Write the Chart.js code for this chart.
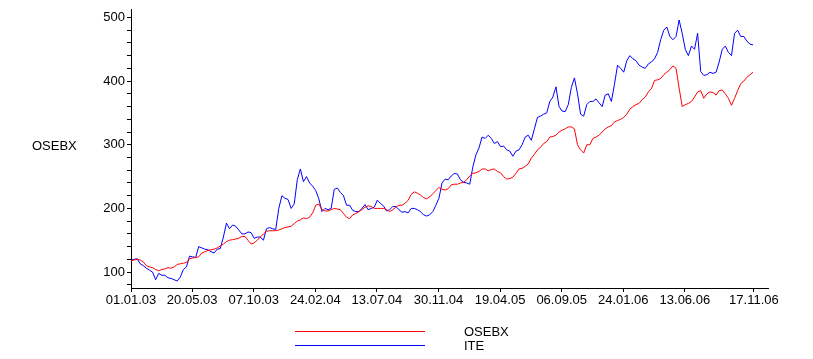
<!DOCTYPE html>
<html>
<head>
<meta charset="utf-8">
<script src="https://cdn.jsdelivr.net/npm/chart.js@4/dist/chart.umd.min.js"></script>
<style>
  body { margin: 0; background: #fff; font-family: "Liberation Sans", Arial, sans-serif; }
  #wrap { position: relative; width: 813px; height: 359px; }
  #yTitle { position: absolute; left: 32px; top: 139px; font-size: 13px; line-height: 14px; color: #000; }
  #legend { position: absolute; left: 0; top: 0; }
  .lg-line { position: absolute; left: 295px; width: 130px; height: 0; }
  .lg-text { position: absolute; left: 464px; font-size: 13px; line-height: 14px; color: #000; }
</style>
</head>
<body>
<div id="wrap">
  <canvas id="myChart" width="813" height="359"></canvas>
  <div id="yTitle">OSEBX</div>
  <div id="legend"></div>
</div>
<script>
// --- Data ---
// weekly closing values starting 01.01.03
const startDate = '01.01.03';
const stepDays = 7;

const osebx = [
  118, 119, 120, 119, 116, 110, 108, 107, 104, 102,
  104, 105, 107, 106, 108, 112, 113, 114, 115, 121,
  122, 123, 124, 130, 132, 134, 135, 136, 138, 141,
  144, 148, 150, 151, 152, 153, 156, 156, 150, 144,
  146, 150, 155, 160, 164, 165, 165, 165, 166, 168,
  170, 171, 172, 176, 180, 182, 185, 184, 186, 193,
  205, 207, 198, 196, 196, 198, 200, 199, 198, 192,
  186, 184, 190, 192, 195, 198, 202, 204, 203, 200,
  200, 200, 200, 198, 195, 198, 202, 205, 205, 208,
  213, 222, 226, 224, 221, 217, 215, 218, 223, 228,
  233, 230, 229, 231, 237, 238, 238, 240, 241, 245,
  251, 255, 256, 258, 262, 262, 259, 261, 262, 258,
  256, 250, 246, 247, 249, 255, 262, 263, 266, 270,
  279, 285, 292, 296, 302, 305, 312, 313, 315, 320,
  323, 325, 328, 328, 325, 300, 292, 287, 300, 300,
  310, 312, 315, 320, 325, 328, 330, 336, 338, 340,
  343, 348, 356, 360, 363, 365, 371, 375, 383, 388,
  401, 402, 404, 410, 414, 418, 424, 420, 389, 360,
  363, 365, 368, 375, 383, 385, 373, 380, 383, 382,
  378, 385, 386, 380, 373, 362, 373, 385, 396, 400,
  406, 410, 414
];

const ite = [
  119, 120, 121, 113, 110, 106, 103, 100, 88, 98,
  95, 95, 91, 90, 88, 86, 92, 104, 108, 125,
  124, 123, 140, 138, 136, 135, 132, 130, 136, 137,
  155, 177, 168, 174, 172, 166, 160, 160, 163, 162,
  153, 155, 155, 150, 168, 170, 168, 167, 200, 220,
  216, 214, 200, 207, 245, 262, 242, 250, 240, 235,
  228, 215, 195, 200, 198, 200, 230, 232, 225, 220,
  205, 205, 197, 195, 195, 200, 206, 198, 200, 202,
  213, 208, 204, 196, 198, 203, 203, 198, 194, 195,
  193, 200, 200, 198, 195, 190, 188, 190, 195, 205,
  216, 240, 246, 245, 251, 255, 254, 245, 241, 240,
  238, 265, 284, 295, 312, 310, 315, 310, 302, 305,
  297, 298, 292, 290, 282, 290, 292, 300, 312, 315,
  307, 325, 343, 345, 348, 350, 368, 375, 391, 360,
  353, 352, 363, 390, 405, 380, 348, 345, 363, 368,
  368, 372, 366, 360, 378, 380, 368, 395, 425, 420,
  414, 432, 440, 435, 432, 425, 422, 420, 427, 430,
  435, 445, 465, 480, 485, 470, 465, 470, 496, 475,
  450, 440, 455, 450, 475, 415, 409, 410, 414, 412,
  414, 430, 450, 455, 445, 440, 475, 480, 470, 470,
  463, 458, 457
];

const tickLabels = ['01.01.03', '20.05.03', '07.10.03', '24.02.04', '13.07.04', '30.11.04',
  '19.04.05', '06.09.05', '24.01.06', '13.06.06', '17.11.06'];

const yTicks = [80, 100, 120, 140, 160, 180, 200, 220, 240, 260, 280, 300, 320, 340, 360, 380, 400, 420, 440, 460, 480, 500];

// days since startDate for a 'dd.mm.yy' string
function toDay(s) {
  const p = s.split('.').map(Number);
  const s0 = startDate.split('.').map(Number);
  return (Date.UTC(2000 + p[2], p[1] - 1, p[0]) - Date.UTC(2000 + s0[2], s0[1] - 1, s0[0])) / 86400000;
}

function fromDay(d) {
  const s0 = startDate.split('.').map(Number);
  const dt = new Date(Date.UTC(2000 + s0[2], s0[1] - 1, s0[0]) + d * 86400000);
  const pad = n => String(n).padStart(2, '0');
  return pad(dt.getUTCDate()) + '.' + pad(dt.getUTCMonth() + 1) + '.' + pad(dt.getUTCFullYear() % 100);
}

const toPoints = arr => arr.map((v, i) => ({ x: i * stepDays, y: v }));

const font = { family: '"Liberation Sans", Arial, sans-serif', size: 13 };

const ctx = document.getElementById('myChart').getContext('2d');
const myChart = new Chart(ctx, {
  type: 'line',
  data: {
    datasets: [
      { label: 'OSEBX', data: toPoints(osebx), borderColor: '#ff0000', backgroundColor: '#ff0000' },
      { label: 'ITE', data: toPoints(ite), borderColor: '#0000ff', backgroundColor: '#0000ff' }
    ]
  },
  options: {
    responsive: false,
    animation: false,
    devicePixelRatio: 1,
    layout: { padding: { top: 3, right: 45, left: 0, bottom: 0 } },
    elements: {
      line: { borderWidth: 1, tension: 0 },
      point: { radius: 0 }
    },
    plugins: {
      legend: { display: false },
      tooltip: { enabled: false }
    },
    scales: {
      x: {
        type: 'linear',
        min: 0,
        max: 1448,
        afterFit: scale => { scale.height = 71; },
        afterBuildTicks: scale => {
          scale.ticks = tickLabels.map(t => ({ value: toDay(t) }));
        },
        ticks: {
          autoSkip: false,
          maxRotation: 0,
          padding: 1,
          color: '#000',
          font: font,
          callback: v => fromDay(v)
        },
        grid: { drawOnChartArea: false, drawTicks: true, tickLength: 4, color: '#000' },
        border: { display: true, color: '#000', width: 1 }
      },
      y: {
        min: 75,
        max: 512,
        afterFit: scale => { scale.width = 131; },
        afterBuildTicks: scale => {
          scale.ticks = yTicks.map(v => ({ value: v }));
        },
        ticks: {
          autoSkip: false,
          padding: 2,
          color: '#000',
          font: font,
          callback: v => (v % 100 === 0 ? String(v) : '')
        },
        grid: { drawOnChartArea: false, drawTicks: true, tickLength: 4, color: '#000' },
        border: { display: true, color: '#000', width: 1 }
      }
    }
  }
});

// --- HTML legend, one row per series ---
const legendBox = document.getElementById('legend');
const lineTops = [331, 345];
myChart.data.datasets.forEach((ds, i) => {
  const line = document.createElement('div');
  line.className = 'lg-line';
  line.style.top = lineTops[i] + 'px';
  line.style.borderTop = '1px solid ' + ds.borderColor;
  legendBox.appendChild(line);

  const text = document.createElement('div');
  text.className = 'lg-text';
  text.style.top = (lineTops[i] - 6) + 'px';
  text.textContent = ds.label;
  legendBox.appendChild(text);
});
</script>
</body>
</html>
